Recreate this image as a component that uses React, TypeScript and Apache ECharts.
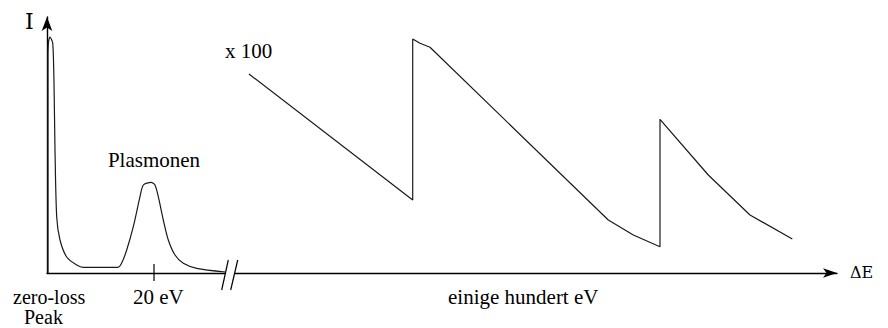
import React, { useEffect, useRef } from "react";
import * as echarts from "echarts";

// Low-loss region: zero-loss peak and plasmon peak (ΔE position, intensity in arbitrary units)
const lowLossEnergy = [1, 1, 1.5, 3, 5.7, 7, 8, 9.7, 13, 19.7, 29.7, 36.3, 71, 74.7, 79.7, 86.3, 93, 96.3, 104, 108, 111.3, 116.3, 121.3, 128, 136.3, 149.7, 178.5];
const lowLossIntensity = [0, 213, 231, 236, 230, 190, 123, 56, 33, 16, 8, 5.7, 5.7, 10, 23, 46.3, 76.3, 88, 90.7, 88, 76.3, 53, 33, 18, 9.7, 4.7, 1];

// Core-loss region (shown magnified x 100): two ionisation edges
const coreLossEnergy = [202, 365.7, 365.7, 373, 383, 561.3, 586.3, 613, 613, 661.3, 703, 745.3];
const coreLossIntensity = [199, 73, 234, 229.7, 225.7, 53, 38, 26.3, 153.7, 98, 58, 34];

// Axis extents and marked positions on the ΔE axis
const energyMax = 790;
const intensityMax = 256;
const plasmonEnergy = 107; // 20 eV
const breakEnergy = 183;

const serif = "'Liberation Serif'";
const mathSerif = "'DejaVu Serif'";

const pairs = (xs: number[], ys: number[]) => xs.map((x, i) => [x, ys[i]]);

export default function App() {
  const ref = useRef<HTMLDivElement>(null);

  useEffect(() => {
    const chart = echarts.init(ref.current!, null, { renderer: "svg" });
    const axisLine = (size: number[]) => ({
      show: true,
      symbol: ["none", "arrow"],
      symbolSize: size,
      lineStyle: { color: "#000", width: 1.4 },
    });
    chart.setOption({
      animation: false,
      backgroundColor: "#fff",
      grid: { left: 47, right: 51, top: 17, bottom: 55, containLabel: false },
      xAxis: {
        type: "value",
        min: 0,
        max: energyMax,
        axisLine: axisLine([7, 14]),
        axisTick: { show: false },
        axisLabel: { show: false },
        splitLine: { show: false },
      },
      yAxis: {
        type: "value",
        min: 0,
        max: intensityMax,
        axisLine: axisLine([8, 14]),
        axisTick: { show: false },
        axisLabel: { show: false },
        splitLine: { show: false },
      },
      series: [
        {
          type: "line",
          data: pairs(lowLossEnergy, lowLossIntensity),
          smooth: 0.25,
          showSymbol: false,
          lineStyle: { color: "#1a1a1a", width: 1.2 },
        },
        {
          type: "line",
          data: pairs(coreLossEnergy, coreLossIntensity),
          showSymbol: false,
          lineStyle: { color: "#1a1a1a", width: 1.2 },
        },
      ],
    });

    const [bx, by] = chart.convertToPixel({ gridIndex: 0 }, [breakEnergy, 0]) as number[];
    const [tx] = chart.convertToPixel({ gridIndex: 0 }, [plasmonEnergy, 0]) as number[];

    const label = (text: string, x: number, y: number, align = "left", size = 21, family = serif) => ({
      type: "text",
      x,
      y,
      z: 110,
      style: { text, fill: "#000", font: `${size}px ${family}`, align, verticalAlign: "middle" },
    });
    const stroke = { stroke: "#000", lineWidth: 1.2 };

    chart.setOption({
      graphic: [
        // axis break
        { type: "rect", z: 100, shape: { x: bx - 4.6, y: by - 3, width: 9.3, height: 6 }, style: { fill: "#fff" } },
        { type: "line", z: 101, shape: { x1: bx - 1.7, y1: by - 13, x2: bx - 8.3, y2: by + 17 }, style: stroke },
        { type: "line", z: 101, shape: { x1: bx + 7.7, y1: by - 13, x2: bx + 0.7, y2: by + 17 }, style: stroke },
        // 20 eV tick
        { type: "line", z: 101, shape: { x1: tx, y1: by - 9, x2: tx, y2: by + 8 }, style: stroke },
        label("I", 25, 21.4, "left", 22, mathSerif),
        label("ΔE", 850, 272.5, "left", 16, mathSerif),
        label("x 100", 225, 51),
        label("Plasmonen", 154, 159.6, "center"),
        label("zero-loss", 13, 296.5, "left", 20),
        label("Peak", 24, 316.5, "left", 20),
        label("20 eV", 133, 297),
        label("einige hundert eV", 448, 297),
      ],
    });

    return () => chart.dispose();
  }, []);

  return (
    <div
      ref={ref}
      style={{ position: "fixed", left: 0, top: 0, width: 888, height: 328, background: "#fff" }}
    />
  );
}
